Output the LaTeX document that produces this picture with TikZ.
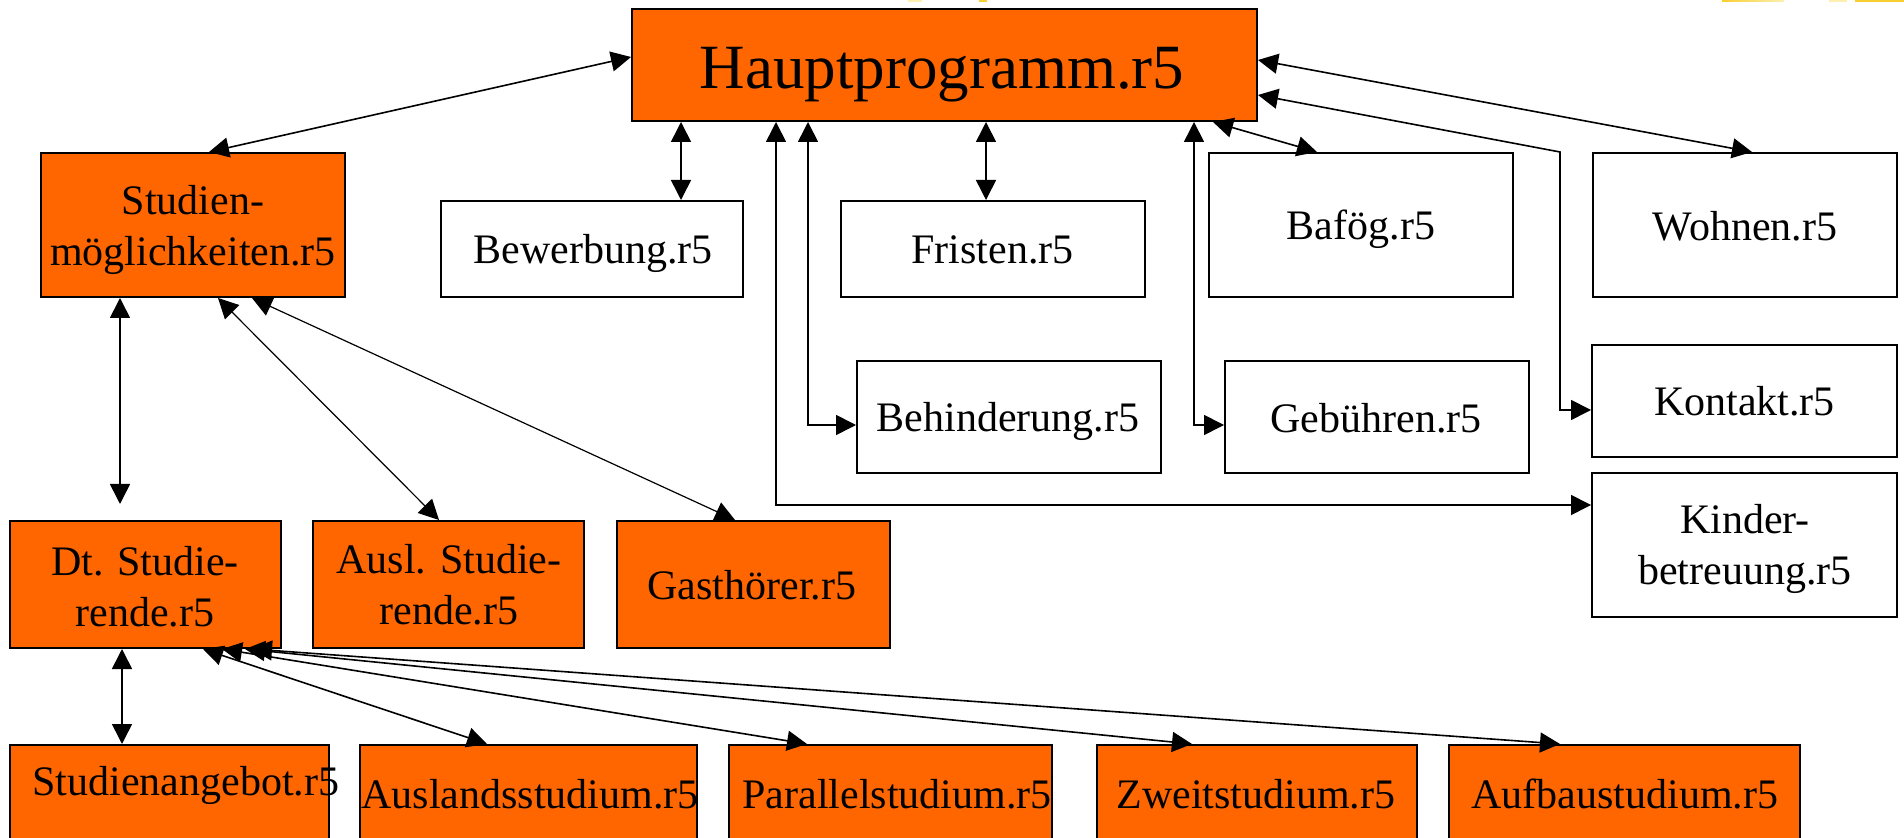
\documentclass[tikz,border=0pt]{standalone}
\usepackage{fontspec}
\setmainfont{Liberation Serif}
\usetikzlibrary{arrows.meta}
\definecolor{boxorange}{HTML}{FF6600}
\definecolor{ystrip}{HTML}{F8CF30}
\definecolor{ypale}{HTML}{FCEFB0}
\begin{document}
\begin{tikzpicture}[x=0.5pt,y=-0.5pt,
  obox/.style={draw=black,line width=1pt,fill=boxorange,inner sep=0pt},
  wbox/.style={draw=black,line width=1pt,fill=white,inner sep=0pt},
  lbl/.style={inner sep=0pt,anchor=base,font=\fontsize{21}{25.5}\selectfont},
  big/.style={inner sep=0pt,anchor=base,font=\fontsize{31.5}{38}\selectfont},
  conn/.style={line width=0.8pt,>={Triangle[length=10pt,width=10pt]},<->},
  thinconn/.style={conn,line width=0.6pt},
]
\useasboundingbox (0,0) rectangle (1904,838);
\clip (0,0) rectangle (1904,838);
\fill[white] (0,0) rectangle (1904,838);
% yellow remnants at the top edge
\fill[ypale] (908,0) rectangle (922,2);
\fill[ystrip] (979,0) rectangle (987,2);
\shade[left color=ystrip,right color=ypale] (1722,0) rectangle (1784,2);
\fill[ypale] (1829,0) rectangle (1847,2);
\fill[ystrip] (1855,0) rectangle (1904,2);

% boxes
\node[obox,minimum width=312.5pt,minimum height=56pt] (haupt) at (944.5,65) {};
\node[big] (hauptT) at (942,89) {Hauptprogramm.r5};

\node[obox,minimum width=152pt,minimum height=72pt] (stud) at (193,225) {};
\node[lbl] (studT) at (193,215) {\begin{tabular}[t]{@{}c@{}}Studien-\\möglichkeiten.r5\end{tabular}};

\node[wbox,minimum width=151pt,minimum height=48pt] (bew) at (592,249) {};
\node[lbl] (bewT) at (593,264) {Bewerbung.r5};

\node[wbox,minimum width=152pt,minimum height=48pt] (fri) at (993,249) {};
\node[lbl] (friT) at (992.5,264) {Fristen.r5};

\node[wbox,minimum width=152pt,minimum height=72pt] (baf) at (1361,225) {};
\node[lbl] (bafT) at (1361,240) {Bafög.r5};

\node[wbox,minimum width=152pt,minimum height=72pt] (woh) at (1745,225) {};
\node[lbl] (wohT) at (1745,241) {Wohnen.r5};

\node[wbox,minimum width=152pt,minimum height=56pt] (beh) at (1009,417) {};
\node[lbl] (behT) at (1008,432) {Behinderung.r5};

\node[wbox,minimum width=152pt,minimum height=56pt] (geb) at (1377,417) {};
\node[lbl] (gebT) at (1376,433) {Gebühren.r5};

\node[wbox,minimum width=152.5pt,minimum height=56pt] (kon) at (1744.5,401) {};
\node[lbl] (konT) at (1744.5,416) {Kontakt.r5};

\node[wbox,minimum width=152.5pt,minimum height=72pt] (kin) at (1744.5,545) {};
\node[lbl] (kinT) at (1745,534) {\begin{tabular}[t]{@{}c@{}}Kinder-\\betreuung.r5\end{tabular}};

\node[obox,minimum width=135.5pt,minimum height=63.5pt] (dt) at (145.5,584.5) {};
\node[lbl] (dtT) at (145,575) {\begin{tabular}[t]{@{}c@{}}Dt. Studie-\\rende.r5\end{tabular}};

\node[obox,minimum width=135.5pt,minimum height=63.5pt] (ausl) at (448.5,584.5) {};
\node[lbl] (auslT) at (449,574) {\begin{tabular}[t]{@{}c@{}}Ausl. Studie-\\rende.r5\end{tabular}};

\node[obox,minimum width=136.5pt,minimum height=63.5pt] (gast) at (753.5,584.5) {};
\node[lbl] (gastT) at (752,600) {Gasthörer.r5};

\node[obox,anchor=north,minimum width=159.5pt,minimum height=60pt] (sa) at (169.5,744) {};
\node[lbl] (saT) at (186,795) {Studienangebot.r5};

\node[obox,anchor=north,minimum width=168.5pt,minimum height=60pt] (as) at (528.5,744) {};
\node[lbl] (asT) at (530,808) {Auslandsstudium.r5};

\node[obox,anchor=north,minimum width=161.5pt,minimum height=60pt] (ps) at (890.5,744) {};
\node[lbl] (psT) at (897,808) {Parallelstudium.r5};

\node[obox,anchor=north,minimum width=160pt,minimum height=60pt] (zs) at (1257,744) {};
\node[lbl] (zsT) at (1256,808) {Zweitstudium.r5};

\node[obox,anchor=north,minimum width=175.5pt,minimum height=60pt] (ab) at (1624.5,744) {};
\node[lbl] (abT) at (1625,808) {Aufbaustudium.r5};

% connectors from Hauptprogramm
\draw[conn] ([yshift=4pt]haupt.west) -- ([xshift=8pt]stud.north);
\coordinate (bewA) at ([xshift=25pt]haupt.south west);
\draw[conn] (bewA) -- (bewA |- bew.north);
\coordinate (friA) at ([xshift=-3.5pt]fri.north);
\draw[conn] (friA |- haupt.south) -- (friA);
\coordinate (behA) at ([xshift=88.5pt]haupt.south west);
\draw[conn] (behA) |- ([yshift=-4pt]beh.west);
\coordinate (kinA) at ([xshift=72.5pt]haupt.south west);
\draw[conn] (kinA) |- ([yshift=20pt]kin.west);
\coordinate (gebA) at ([xshift=-32pt]haupt.south east);
\draw[conn] (gebA) |- ([yshift=-4pt]geb.west);
\draw[conn] ([xshift=-22.5pt]haupt.south east) -- ([xshift=54.5pt]baf.north west);
\draw[conn] ([yshift=2.5pt]haupt.east) -- ([xshift=3.5pt]woh.north);
\coordinate (konW) at ([yshift=-4.5pt]kon.west);
\coordinate (konX) at ([xshift=-15.5pt]kon.west);
\draw[conn] ([yshift=-15pt]haupt.east) -- (konX |- woh.north) -- (konX |- konW) -- (konW);

% connectors from Studienmöglichkeiten
\coordinate (sdA) at ([xshift=-36.5pt]stud.south);
\coordinate (sdB) at ([yshift=8pt]dt.north);
\draw[conn] (sdA) -- (sdA |- sdB);
\draw[thinconn] ([xshift=12.5pt]stud.south) -- ([xshift=-4.75pt]ausl.north);
\draw[thinconn] ([xshift=29.5pt]stud.south) -- ([xshift=-9.25pt]gast.north);

% connectors from Dt. Studierende
\coordinate (dsA) at ([xshift=-11.75pt]dt.south);
\draw[conn] (dsA) -- (dsA |- sa.north);
\draw[conn] ([xshift=28.75pt]dt.south) -- ([xshift=-20.75pt]as.north);
\draw[conn] ([xshift=38.25pt]dt.south) -- ([xshift=-41.75pt]ps.north);
\draw[conn] ([xshift=49.75pt]dt.south) -- ([xshift=-32.5pt]zs.north);
\draw[conn] ([xshift=53.25pt]dt.south) -- ([xshift=-32.25pt]ab.north);
\end{tikzpicture}
\end{document}
